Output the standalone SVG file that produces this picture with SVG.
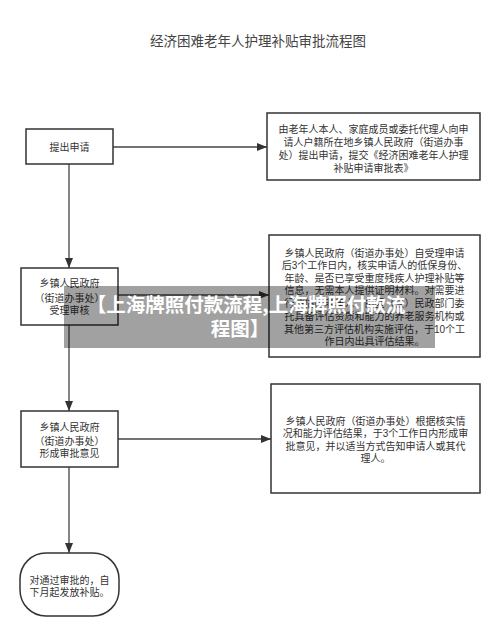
<svg xmlns="http://www.w3.org/2000/svg" width="500" height="635" viewBox="0 0 500 635">
<style>
text{font-family:"Liberation Sans","Noto Sans CJK SC",sans-serif;fill:#333;}
.t{font-size:10px;text-anchor:middle;}
.box{fill:#fff;stroke:#333;stroke-width:1.5;}
.ln{fill:none;stroke:#444;stroke-width:1.3;}
.ban{font-family:"Noto Sans CJK SC",sans-serif;font-size:19.5px;font-weight:bold;fill:#fff;text-anchor:middle;}
</style>
<defs>
<marker id="ah" viewBox="0 0 10 10" refX="10" refY="5" markerWidth="10" markerHeight="10" markerUnits="userSpaceOnUse" orient="auto">
<path d="M0,1 L10,5 L0,9 Z" fill="#333"/>
</marker>
</defs>
<rect width="500" height="635" fill="#fff"/>
<text x="258" y="46" style="font-size:13.5px;text-anchor:middle;fill:#444">经济困难老年人护理补贴审批流程图</text>
<g id="connectors">
<line class="ln" x1="113" y1="147" x2="267" y2="147" marker-end="url(#ah)"/>
<line class="ln" x1="69" y1="164" x2="69" y2="268" marker-end="url(#ah)"/>
<line class="ln" x1="118" y1="295" x2="269" y2="295" marker-end="url(#ah)"/>
<line class="ln" x1="69" y1="325" x2="69" y2="411" marker-end="url(#ah)"/>
<line class="ln" x1="118" y1="439" x2="271" y2="439" marker-end="url(#ah)"/>
<line class="ln" x1="69" y1="467" x2="69" y2="553" marker-end="url(#ah)"/>
</g>
<g id="n1">
<rect class="box" x="26" y="129" width="87" height="35"/>
<text class="t" x="69.5" y="151">提出申请</text>
</g>
<g id="r1">
<rect class="box" x="267" y="113" width="213" height="67"/>
<text class="t" x="373.5" y="132.5">由老年人本人、家庭成员或委托代理人向申</text>
<text class="t" x="373.5" y="146">请人户籍所在地乡镇人民政府（街道办事</text>
<text class="t" x="373.5" y="159">处）提出申请，提交《经济困难老年人护理</text>
<text class="t" x="373.5" y="172">补贴申请审批表》</text>
</g>
<g id="n2">
<rect class="box" x="21" y="268" width="97" height="57"/>
<text class="t" x="69.5" y="286.5">乡镇人民政府</text>
<text class="t" x="69.5" y="302">（街道办事处）</text>
<text class="t" x="69.5" y="314">受理审核</text>
</g>
<g id="r2">
<rect class="box" x="269" y="235" width="211" height="122"/>
<text class="t" x="374.5" y="256.5">乡镇人民政府（街道办事处）自受理申请</text>
<text class="t" x="374.5" y="269">后3个工作日内，核实申请人的低保身份、</text>
<text class="t" x="374.5" y="281.5">年龄、是否已享受重度残疾人护理补贴等</text>
<text class="t" x="374.5" y="294">信息，无需本人提供证明材料。对需要进</text>
<text class="t" x="374.5" y="307">行评估的老年人，由区（县）民政部门委</text>
<text class="t" x="374.5" y="319.5">托具备评估资质和能力的养老服务机构或</text>
<text class="t" x="374.5" y="332.5">其他第三方评估机构实施评估，于10个工</text>
<text class="t" x="374.5" y="345">作日内出具评估结果。</text>
</g>
<g id="n3">
<rect class="box" x="21" y="411" width="97" height="56"/>
<text class="t" x="69.5" y="430.5">乡镇人民政府</text>
<text class="t" x="69.5" y="444.5">（街道办事处）</text>
<text class="t" x="69.5" y="457">形成审批意见</text>
</g>
<g id="r3">
<rect class="box" x="271" y="384" width="209" height="109"/>
<text class="t" x="375.5" y="425">乡镇人民政府（街道办事处）根据核实情</text>
<text class="t" x="375.5" y="437">况和能力评估结果，于3个工作日内形成审</text>
<text class="t" x="375.5" y="449.5">批意见，并以适当方式告知申请人或其代</text>
<text class="t" x="375.5" y="461.5">理人。</text>
</g>
<g id="n4">
<rect class="box" x="20" y="553" width="99" height="63" rx="26" ry="26"/>
<text class="t" x="69.5" y="583.5">对通过审批的，自</text>
<text class="t" x="69.5" y="596">下月起发放补贴。</text>
</g>
<g id="banner">
<rect x="64" y="286" width="371" height="62" fill="#000" fill-opacity="0.37"/>
<text class="ban" x="246" y="312">【上海牌照付款流程,上海牌照付款流</text>
<text class="ban" x="240" y="336">程图】</text>
</g>
</svg>
